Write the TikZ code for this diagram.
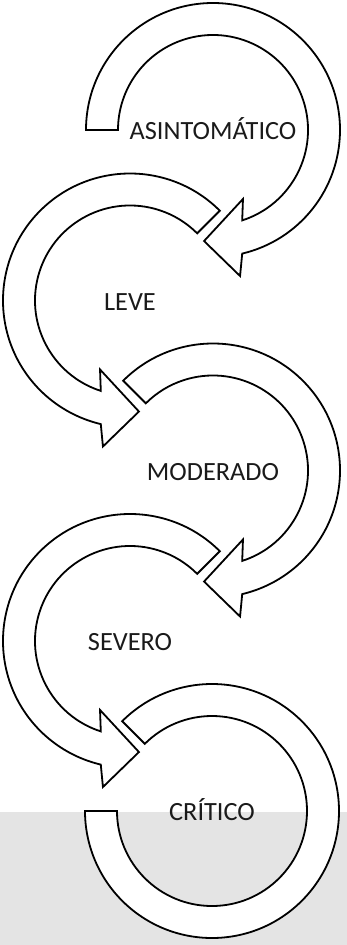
\documentclass[tikz,border=0pt]{standalone}
\usepackage{fontspec}
\setmainfont{Carlito}
\usepackage{tikz}
\usetikzlibrary{positioning}
\definecolor{band}{HTML}{E4E4E4}
\definecolor{ink}{HTML}{1A1A1A}
\tikzset{
    every picture/.style={line join=miter},
    cyclearrow/.style={draw=black,fill=white,line width=1.8pt},
    stagelabel/.style={font=\fontsize{26.3}{31}\selectfont,text=ink,
      inner sep=0pt,anchor=base,yshift=-9.5pt}
}

\begin{document}
\begin{tikzpicture}[x=1pt,y=1pt]
  \useasboundingbox (0,0) rectangle (347,-945);
  \fill[band] (0,-812) rectangle (347,-945);
  \coordinate (c1) at (213,-130);
  \coordinate (c2) at (130,-300.5);
  \coordinate (c3) at (213,-470.5);
  \coordinate (c4) at (130,-641);
  \coordinate (c5) at (212,-811);
  % turning arrows, one per stage
  \draw[cyclearrow,shift={(c1)}] (180:127) arc[start angle=180,end angle=-76.7,radius=127]
    -- (-79.5:148.5) -- (-94.6:111.4) -- (-66.5:75.2) -- (-72.1:95)
    arc[start angle=-72.1,end angle=180,radius=95] -- cycle;
  \draw[cyclearrow,shift={(c2)}] (45:127) arc[start angle=45,end angle=256.7,radius=127]
    -- (259.5:148.5) -- (274.6:111.4) -- (246.5:75.2) -- (252.1:95)
    arc[start angle=252.1,end angle=45,radius=95] -- cycle;
  \draw[cyclearrow,shift={(c3)}] (135:127) arc[start angle=135,end angle=-76.7,radius=127]
    -- (-79.5:148.5) -- (-94.6:111.4) -- (-66.5:75.2) -- (-72.1:95)
    arc[start angle=-72.1,end angle=135,radius=95] -- cycle;
  \draw[cyclearrow,shift={(c4)}] (45:127) arc[start angle=45,end angle=256.7,radius=127]
    -- (259.5:148.5) -- (274.6:111.4) -- (246.5:75.2) -- (252.1:95)
    arc[start angle=252.1,end angle=45,radius=95] -- cycle;
  \draw[cyclearrow,shift={(c5)}] (135:127) arc[start angle=135,end angle=-180,radius=127]
    -- (180:95) arc[start angle=-180,end angle=135,radius=95] -- cycle;
  % stage names
  \node[stagelabel] (asin) at (c1) {ASINTOMÁTICO};
  \node[stagelabel] (leve) at (c2) {LEVE};
  \node[stagelabel] (mod) at (c3) {MODERADO};
  \node[stagelabel] (sev) at (c4) {SEVERO};
  \node[stagelabel] (crit) at (c5) {CRÍTICO};
\end{tikzpicture}
\end{document}
